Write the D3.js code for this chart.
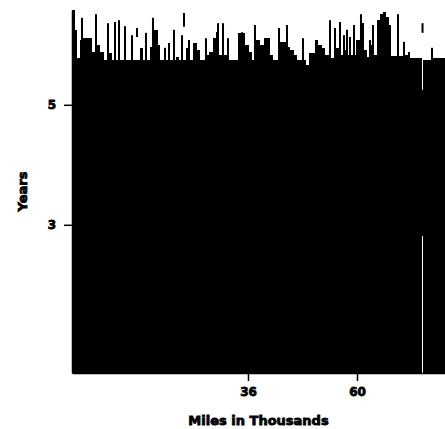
<!DOCTYPE html>
<html>
<head>
<meta charset="utf-8">
<script src="https://cdn.jsdelivr.net/npm/d3@7"></script>
<style>
  body { margin: 0; background: #fff; }
  text { font-family: "DejaVu Sans", sans-serif; font-weight: bold; }
</style>
</head>
<body>
<div id="chart"></div>
<script>
// Mileage bin edges (thousands of miles) and the age reached in each bin
var binEdges = [-2.75, -2.09, -1.65, -0.99, -0.55, 1.65, 2.31, 2.75, 3.41, 4.30,
    5.18, 6.06, 12.22, 12.88, 14.42, 15.08, 16.19, 16.63, 20.15, 20.81,
    22.35, 23.23, 23.89, 24.77, 25.43, 26.53, 27.41, 28.30, 28.96, 29.62,
    31.60, 33.80, 35.34, 36.22, 36.88, 37.76, 38.64, 39.52, 40.85, 41.51,
    42.83, 44.37, 45.25, 46.13, 46.79, 48.77, 49.43, 50.75, 51.41, 52.30,
    52.96, 54.06, 55.16, 56.04, 56.92, 57.58, 59.78, 60.88, 61.54, 62.20,
    62.86, 63.52, 64.41, 65.07, 65.73, 66.39, 67.05, 67.49, 70.13, 71.45,
    74.32, 74.54, 76.52, 79.38];
var binYears = [6.58, 6.25, 5.78, 6.08, 6.11, 5.88, 5.75, 6.00, 5.88, 5.75,
    5.86, 5.75, 5.95, 5.75, 5.96, 6.25, 6.00, 5.75, 5.80, 5.75,
    5.95, 5.75, 6.03, 5.91, 5.75, 5.83, 5.88, 6.11, 6.21, 5.83,
    5.75, 6.20, 6.00, 5.88, 5.75, 6.08, 6.00, 6.11, 5.83, 5.75,
    6.05, 5.96, 5.91, 5.83, 5.75, 5.66, 5.86, 6.08, 6.00, 5.95,
    5.83, 5.78, 5.95, 5.83, 5.91, 5.83, 6.08, 6.36, 5.91, 5.80,
    6.00, 5.83, 6.41, 6.51, 6.55, 6.46, 6.33, 5.81, 5.83, 5.78,
    null, 5.75, 5.78];

// Single cars that stick out above the mass
var spikeMiles = [-0.55, 2.53, 5.18, 6.72, 7.60, 8.92, 10.46, 13.54, 15.08, 17.73,
    18.61, 19.71, 21.47, 23.01, 26.75, 29.40, 30.50, 31.60, 34.68, 37.54,
    42.83, 44.59, 48.11, 50.97, 54.06, 55.16, 56.26, 57.14, 57.80, 58.46,
    59.34, 60.88, 62.86, 63.52, 69.03, 70.35, 71.45, 76.52];
var spikeYears = [6.45, 6.51, 6.36, 6.38, 6.41, 6.31, 6.16, 6.20, 6.45, 5.95,
    6.03, 6.25, 6.16, 6.08, 6.11, 6.36, 6.36, 6.11, 6.21, 6.33,
    6.28, 6.33, 6.11, 6.08, 6.41, 6.28, 6.38, 6.16, 6.25, 6.13,
    6.33, 6.51, 6.08, 6.33, 6.51, 6.05, 5.88, 5.95];

// Ranges that do not reach the baseline
var floatMiles = [11.56, 21.91, 74.43, 74.43];
var floatLow = [6.13, 6.30, 6.20, 2.81];
var floatHigh = [6.28, 6.53, 6.36, 5.25];

var xTicks = [36, 60];
var yTicks = [3, 5];

var width = 445, height = 429;
var margin = { top: 10, right: 0, bottom: 56, left: 72 };
var yMin = 0.53;

var svg = d3.select("#chart").append("svg")
    .attr("width", width)
    .attr("height", height);

var x = d3.scaleLinear()
    .domain([binEdges[0], binEdges[binEdges.length - 1]])
    .range([margin.left, width - margin.right]);
var y = d3.scaleLinear()
    .domain([yMin, 6.58])
    .range([height - margin.bottom, margin.top]);

// bins
var bins = d3.pairs(binEdges).map(function (p, i) {
    return { x0: p[0], x1: p[1], v: binYears[i] };
}).filter(function (d) { return d.v != null; });

svg.append("g").selectAll("rect")
    .data(bins)
    .join("rect")
    .attr("x", function (d) { return x(d.x0); })
    .attr("width", function (d) { return x(d.x1) - x(d.x0); })
    .attr("y", function (d) { return y(d.v); })
    .attr("height", function (d) { return y(yMin) - y(d.v); })
    .attr("fill", "#000")
    .attr("shape-rendering", "crispEdges");

// spikes
svg.append("g").selectAll("rect")
    .data(spikeMiles)
    .join("rect")
    .attr("x", function (d) { return x(d) - 1; })
    .attr("width", 2)
    .attr("y", function (d, i) { return y(spikeYears[i]); })
    .attr("height", function (d, i) { return y(yMin) - y(spikeYears[i]); })
    .attr("fill", "#000");

// floating ranges
svg.append("g").selectAll("rect")
    .data(floatMiles)
    .join("rect")
    .attr("x", function (d) { return x(d) - 1; })
    .attr("width", 2)
    .attr("y", function (d, i) { return y(floatHigh[i]); })
    .attr("height", function (d, i) { return y(floatLow[i]) - y(floatHigh[i]); })
    .attr("fill", "#000");

// axes
var xAxis = svg.append("g")
    .attr("transform", "translate(0," + y(yMin) + ")")
    .call(d3.axisBottom(x).tickValues(xTicks).tickFormat(d3.format("d"))
        .tickSize(8).tickSizeOuter(0).tickPadding(6));
var yAxis = svg.append("g")
    .attr("transform", "translate(" + margin.left + ",0)")
    .call(d3.axisLeft(y).tickValues(yTicks).tickFormat(d3.format("d"))
        .tickSize(8).tickSizeOuter(0).tickPadding(8));

[xAxis, yAxis].forEach(function (g) {
    g.selectAll("path, line").attr("stroke", "#000").attr("stroke-width", 1.5);
    g.selectAll("text")
        .style("font-family", "'DejaVu Sans', sans-serif")
        .style("font-weight", "bold")
        .style("font-size", "12px")
        .attr("fill", "#000")
        .attr("stroke", "#000")
        .attr("stroke-width", 0.8);
});

svg.append("text")
    .attr("x", (margin.left + width - margin.right) / 2)
    .attr("y", 425)
    .attr("text-anchor", "middle")
    .style("font-size", "13px")
    .attr("stroke", "#000")
    .attr("stroke-width", 0.8)
    .text("Miles in Thousands");

svg.append("text")
    .attr("transform", "translate(27," + (margin.top + y(yMin)) / 2 + ") rotate(-90)")
    .attr("text-anchor", "middle")
    .style("font-size", "13px")
    .attr("stroke", "#000")
    .attr("stroke-width", 0.8)
    .text("Years");
</script>
</body>
</html>
